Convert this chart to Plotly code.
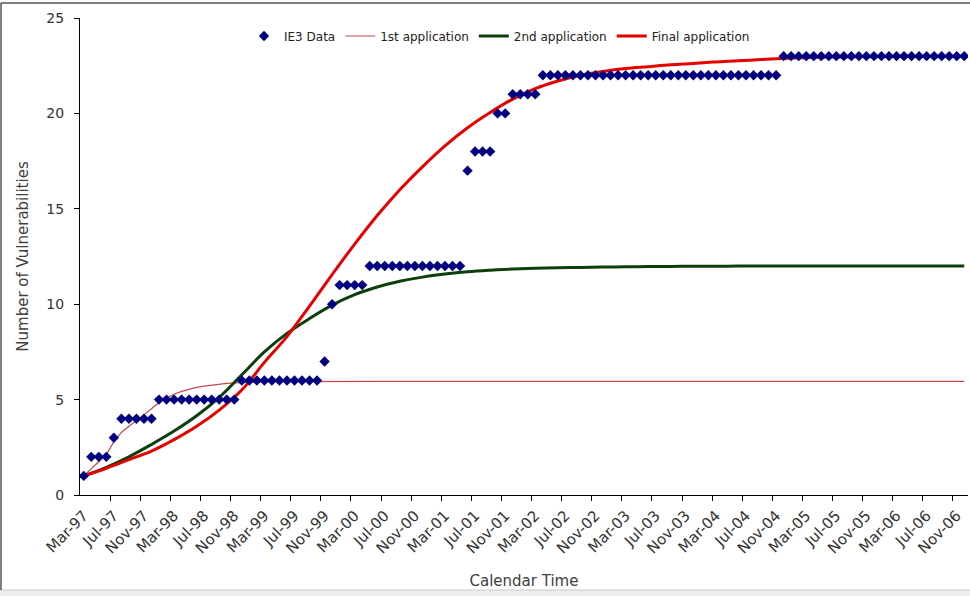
import plotly.graph_objects as go

# Observed cumulative vulnerability counts, one value per month (Mar-97 .. Dec-06)
ie3_data = [
    1, 2, 2, 2, 3, 4, 4, 4, 4, 4,
    5, 5, 5, 5, 5, 5, 5, 5, 5, 5, 5,
    6, 6, 6, 6, 6, 6, 6, 6, 6, 6, 6,
    7, 10, 11, 11, 11, 11,
    12, 12, 12, 12, 12, 12, 12, 12, 12, 12, 12, 12, 12,
    17, 18, 18, 18, 20, 20, 21, 21, 21, 21,
    22, 22, 22, 22, 22, 22, 22, 22, 22, 22, 22, 22, 22, 22, 22, 22,
    22, 22, 22, 22, 22, 22, 22, 22, 22, 22, 22, 22, 22, 22, 22, 22,
    23, 23, 23, 23, 23, 23, 23, 23, 23, 23, 23, 23, 23, 23, 23, 23,
    23, 23, 23, 23, 23, 23, 23, 23, 23,
]

# Model curves (month index -> fitted count)
first_months = [0, 1, 2, 3, 4, 5, 6, 7, 8, 9, 10, 11, 12, 13, 14, 15, 16, 17, 18, 19,
                20, 21, 22, 23, 24, 27, 30, 33, 36, 39, 42, 45, 48, 51, 54, 57, 60, 63,
                66, 69, 72, 75, 78, 81, 84, 87, 90, 93, 96, 99, 102, 105, 108, 111, 114, 117]
first_app = [1.00, 1.38, 1.76, 2.12, 2.80, 3.28, 3.60, 3.88, 4.20, 4.52, 4.85, 5.08, 5.28,
             5.43, 5.55, 5.64, 5.71, 5.77, 5.81, 5.85, 5.88, 5.90, 5.91, 5.92, 5.93, 5.94,
             5.95, 5.95, 5.95, 5.95, 5.95, 5.95, 5.95, 5.95, 5.95, 5.95, 5.95, 5.95, 5.95,
             5.95, 5.95, 5.95, 5.95, 5.95, 5.95, 5.95, 5.95, 5.95, 5.95, 5.95, 5.95, 5.95,
             5.95, 5.95, 5.95, 5.95]

curve_months = [0, 3, 6, 9, 12, 15, 18, 21, 24, 27, 30, 33, 36, 39, 42, 45, 48, 51, 54, 57,
                60, 63, 66, 69, 72, 75, 78, 81, 84, 87, 90, 93, 96, 99, 102, 105, 108, 111,
                114, 117]
second_app = [1.00, 1.45, 2.00, 2.65, 3.35, 4.15, 5.12, 6.30, 7.50, 8.47, 9.25, 9.95, 10.50,
              10.90, 11.20, 11.42, 11.58, 11.70, 11.78, 11.84, 11.88, 11.91, 11.93, 11.95,
              11.96, 11.97, 11.98, 11.99, 11.99, 12.00, 12.00, 12.00, 12.00, 12.00, 12.00,
              12.00, 12.00, 12.00, 12.00, 12.00]
final_app = [1.00, 1.40, 1.85, 2.30, 2.90, 3.60, 4.45, 5.50, 6.95, 8.30, 9.90, 11.55, 13.15,
             14.65, 16.00, 17.20, 18.30, 19.25, 20.05, 20.75, 21.30, 21.70, 22.00, 22.20,
             22.35, 22.45, 22.55, 22.62, 22.70, 22.76, 22.82, 22.88, 22.92, 22.95, 22.97,
             22.98, 22.99, 23.00, 23.00, 23.00]

tick_months = [0, 4, 8, 12, 16, 20, 24, 28, 32, 36, 40, 44, 48, 52, 56, 60, 64, 68, 72, 76,
               80, 84, 88, 92, 96, 100, 104, 108, 112, 116]
tick_labels = ["Mar-97", "Jul-97", "Nov-97", "Mar-98", "Jul-98", "Nov-98", "Mar-99", "Jul-99",
               "Nov-99", "Mar-00", "Jul-00", "Nov-00", "Mar-01", "Jul-01", "Nov-01", "Mar-02",
               "Jul-02", "Nov-02", "Mar-03", "Jul-03", "Nov-03", "Mar-04", "Jul-04", "Nov-04",
               "Mar-05", "Jul-05", "Nov-05", "Mar-06", "Jul-06", "Nov-06"]
# category boundaries where the axis tick marks sit
boundary_ticks = [m - 0.5 for m in tick_months[1:]]

n_months = len(ie3_data)
FONT = "DejaVu Sans"

fig = go.Figure()
fig.add_trace(go.Scatter(
    x=first_months, y=first_app, mode="lines", name="1st application",
    line=dict(color="#C04A4A", width=1.2), legendrank=2))
fig.add_trace(go.Scatter(
    x=curve_months, y=second_app, mode="lines", name="2nd application",
    line=dict(color="#0B3F0B", width=3, shape="spline"), legendrank=3))
fig.add_trace(go.Scatter(
    x=curve_months, y=final_app, mode="lines", name="Final application",
    line=dict(color="#E60000", width=3, shape="spline"), legendrank=4))
fig.add_trace(go.Scatter(
    x=list(range(n_months)), y=ie3_data, mode="markers", name="IE3 Data",
    marker=dict(symbol="diamond", size=8, color="#000080"), legendrank=1))

# frame around the chart (pixel -> paper conversion for the 970x596 canvas)
W, H = 970, 596
L, R, T, B = 80, 2, 18, 101
pw, ph = W - L - R, H - T - B


def px(x):
    return (x - L) / pw


def py(y):
    return (H - B - y) / ph


frame = [
    dict(type="rect", xref="paper", yref="paper", x0=px(0), x1=px(W), y0=py(H), y1=py(590),
         fillcolor="#EDEDED", line=dict(width=0), layer="below"),
    dict(type="line", xref="paper", yref="paper", x0=px(0), x1=px(W), y0=py(590), y1=py(590),
         line=dict(color="#C8C8C8", width=1)),
    dict(type="line", xref="paper", yref="paper", x0=px(1), x1=px(1), y0=py(3), y1=py(590),
         line=dict(color="black", width=1)),
    dict(type="line", xref="paper", yref="paper", x0=px(1), x1=px(W), y0=py(3), y1=py(3),
         line=dict(color="black", width=1)),
]

fig.update_layout(
    width=W, height=H,
    margin=dict(l=L, r=R, t=T, b=B, autoexpand=False),
    paper_bgcolor="white", plot_bgcolor="white",
    font=dict(family=FONT, color="#333333"),
    shapes=frame,
    showlegend=True,
    legend=dict(orientation="h", xref="paper", yref="paper",
                x=px(244), y=py(36), xanchor="left", yanchor="middle",
                font=dict(size=12, color="#222222"), bgcolor="rgba(0,0,0,0)",
                itemwidth=30, tracegroupgap=0),
    xaxis=dict(
        range=[-0.5, n_months - 0.5],
        tickmode="array", tickvals=tick_months, ticktext=tick_labels,
        tickangle=-45, ticks="", tickfont=dict(size=15, color="#333333"),
        ticklabelstandoff=5,
        showline=True, linecolor="black", linewidth=1,
        showgrid=False, zeroline=False,
        minor=dict(tickmode="array", tickvals=boundary_ticks, ticks="outside",
                   ticklen=5, tickcolor="black", tickwidth=1, showgrid=False),
        title=dict(text="Calendar Time", font=dict(size=15, color="#404040"), standoff=19),
    ),
    yaxis=dict(
        range=[0, 25], tickmode="linear", tick0=0, dtick=5,
        ticks="outside", ticklen=5, tickcolor="black",
        tickfont=dict(size=14, color="#333333"), ticklabelstandoff=7,
        showline=True, linecolor="black", linewidth=1,
        showgrid=False, zeroline=False,
        title=dict(text="Number of Vulnerabilities", font=dict(size=15, color="#404040"),
                   standoff=14),
    ),
)

fig.write_html("out.html")
